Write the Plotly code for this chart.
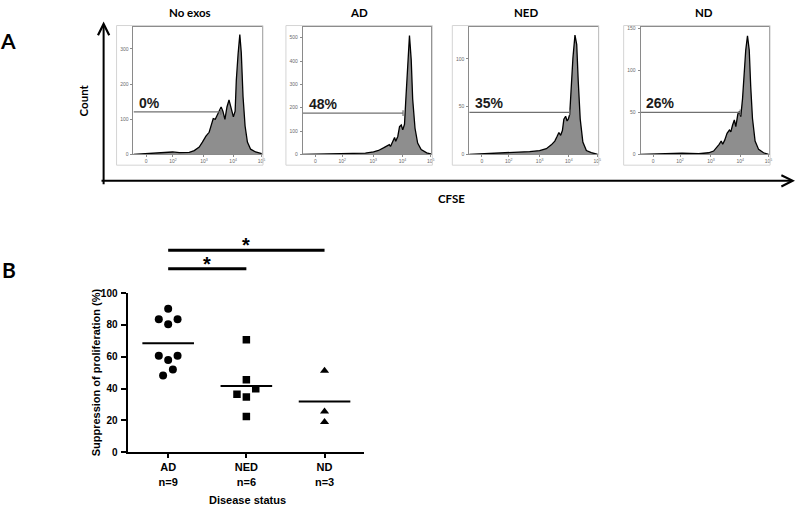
import plotly.graph_objects as go

W, H = 800, 512


def fx(px):
    return px / W


def fy(py):
    return 1 - py / H


# ---------------- Panel A data (flow cytometry histograms) ----------------
PANEL_TITLES = ["No exos", "AD", "NED", "ND"]
PERCENTS = ["0%", "48%", "35%", "26%"]
CFSE_TICKVALS = [0, 0.92, 1.98, 2.98, 3.95]
CFSE_TICKTEXT = ["0", "10<sup>2</sup>", "10<sup>3</sup>", "10<sup>4</sup>", "10<sup>5</sup>"]

noexos_cfse = [-0.43, 0.0, 0.57, 0.91, 1.14, 1.48, 1.65, 1.82, 1.93, 2.05, 2.16, 2.23, 2.30, 2.37,
               2.43, 2.50, 2.57, 2.63, 2.70, 2.77, 2.84, 2.91, 2.99, 3.05, 3.09, 3.15, 3.21, 3.26,
               3.32, 3.39, 3.47, 3.58, 3.75, 3.96]
noexos_count = [0, 2, 5, 7, 5, 6, 11, 21, 35, 52, 63, 81, 102, 100, 109, 123, 135, 123, 100, 135,
                155, 132, 107, 123, 211, 285, 341, 290, 165, 81, 35, 15, 7, 2]

ad_cfse = [-0.43, 0.57, 1.14, 1.71, 1.99, 2.16, 2.33, 2.44, 2.53, 2.57, 2.65, 2.71, 2.75, 2.82,
           2.88, 2.94, 2.99, 3.05, 3.09, 3.15, 3.22, 3.28, 3.33, 3.41, 3.50, 3.62, 3.81, 3.98]
ad_count = [0, 2, 3, 6, 11, 17, 28, 35, 42, 34, 56, 73, 56, 77, 119, 126, 105, 129, 223, 363,
            509, 405, 237, 112, 49, 21, 7, 1]

ned_cfse = [-0.43, 0.50, 1.07, 1.64, 1.98, 2.21, 2.38, 2.50, 2.58, 2.64, 2.70, 2.76, 2.81, 2.87,
            2.92, 2.96, 3.01, 3.06, 3.12, 3.19, 3.25, 3.30, 3.37, 3.46, 3.58, 3.75, 3.97]
ned_count = [0, 1, 2, 3, 4, 6, 10, 14, 19, 23, 20, 25, 37, 40, 35, 37, 42, 71, 101, 125, 115, 78,
             37, 13, 4, 2, 0]

nd_cfse = [-0.43, 0.19, 0.53, 0.99, 1.56, 1.90, 2.07, 2.18, 2.26, 2.33, 2.38, 2.45, 2.53, 2.61,
           2.66, 2.72, 2.78, 2.83, 2.90, 2.95, 3.00, 3.06, 3.12, 3.17, 3.23, 3.29, 3.34, 3.40,
           3.49, 3.61, 3.78, 3.95]
nd_count = [0, 0.4, 1.2, 1.6, 0.8, 2, 4, 8, 12, 16, 12, 17, 25, 29, 27, 35, 41, 33, 48, 51, 45,
            66, 97, 124, 141, 124, 81, 43, 16, 6, 2, 0]

gate_count = [121, 177, 44, 50]
gate_end = [2.56, 3.00, 3.01, 2.98]
count_max = [364, 548, 134, 152]
count_ticks = [[0, 100, 200, 300], [0, 100, 200, 300, 400, 500], [0, 50, 100], [0, 50, 100, 150]]

# ---------------- Panel B data (suppression of proliferation) ----------------
groups = ["AD", "NED", "ND"]
group_n = ["n=9", "n=6", "n=3"]
ad_supp = [90.2, 83.6, 83.6, 80.4, 60.6, 60.6, 57.9, 52.0, 48.3]
ned_supp = [70.7, 45.6, 39.9, 36.4, 34.8, 22.5]
nd_supp = [51.3, 25.6, 19.0]
ad_jitter = [0, -0.12, 0.12, 0, -0.12, 0.12, 0, 0.06, -0.065]
ned_jitter = [0, 0, 0.12, -0.12, 0, 0]
nd_jitter = [0, 0, 0]
sig_pairs = [(0, 2, 127.0), (0, 1, 115.3)]
y_ticks_b = [0, 20, 40, 60, 80, 100]

# ---------------- build figure ----------------
fig = go.Figure()

hist_x = [noexos_cfse, ad_cfse, ned_cfse, nd_cfse]
hist_y = [noexos_count, ad_count, ned_count, nd_count]
PANEL_LEFT = [134, 304, 471, 643]
PANEL_W = 129
P_TOP, P_BOT = 21, 152
XR = [-0.43, 3.97]
GRAY_AX = "#8a8a8a"

layout = dict(
    width=W, height=H, margin=dict(l=0, r=0, t=0, b=0),
    paper_bgcolor="white", plot_bgcolor="white", showlegend=False,
)
annotations = []
shapes = []

for i in range(4):
    k = i + 1
    xa = "x" if k == 1 else f"x{k}"
    ya = "y" if k == 1 else f"y{k}"
    fig.add_trace(go.Scatter(
        x=hist_x[i], y=hist_y[i], mode="lines", fill="tozeroy",
        fillcolor="#8e8e8e", line=dict(color="black", width=1.3),
        xaxis=xa, yaxis=ya, hoverinfo="skip"))
    g = gate_count[i]
    t = 0.022 * count_max[i]
    fig.add_trace(go.Scatter(
        x=[XR[0], gate_end[i], None, gate_end[i], gate_end[i]],
        y=[g, g, None, g - t, g + t], mode="lines",
        line=dict(color="#707070", width=1.2), xaxis=xa, yaxis=ya, hoverinfo="skip"))
    left = PANEL_LEFT[i]
    axis_common = dict(showline=True, linecolor=GRAY_AX, linewidth=1, mirror=True,
                       ticks="outside", ticklen=2, tickcolor=GRAY_AX, tickwidth=1,
                       showgrid=False, zeroline=False,
                       tickfont=dict(family="Arial", size=5, color="#6a6a6a"))
    layout["xaxis" if k == 1 else f"xaxis{k}"] = dict(
        domain=[fx(left), fx(left + PANEL_W)], range=XR, anchor=ya,
        tickvals=CFSE_TICKVALS, ticktext=CFSE_TICKTEXT, **axis_common)
    layout["yaxis" if k == 1 else f"yaxis{k}"] = dict(
        domain=[fy(P_BOT), fy(P_TOP)], range=[0, count_max[i]], anchor=xa,
        tickvals=count_ticks[i], ticklabelstandoff=1, **axis_common)
    # outer light frame
    shapes.append(dict(type="rect", xref="paper", yref="paper",
                       x0=fx(left - 17), x1=fx(left + PANEL_W + 1), y0=fy(163), y1=fy(20),
                       line=dict(color="#d4d4d4", width=1)))
    # percent label
    annotations.append(dict(text=PERCENTS[i], xref=xa, yref=ya, x=-0.3, y=g,
                            xanchor="left", yanchor="bottom", yshift=-1, showarrow=False,
                            font=dict(family="Liberation Sans, Arial", size=14, color="#1a1a1a",
                                      weight="bold")))
    # panel title
    annotations.append(dict(text=PANEL_TITLES[i], xref="paper", yref="paper",
                            x=fx(left + PANEL_W / 2 - 8 + (7 if i == 3 else 0)), y=fy(7),
                            xanchor="center", yanchor="middle", showarrow=False,
                            font=dict(family="Lato", size=11.5, color="black", weight="bold")))

# Panel B scatter
b_vals = [ad_supp, ned_supp, nd_supp]
b_jit = [ad_jitter, ned_jitter, nd_jitter]
b_sym = ["circle", "square", "triangle-up"]
b_size = [8, 7.5, 8]
for gi in range(3):
    fig.add_trace(go.Scatter(
        x=[gi + j for j in b_jit[gi]], y=b_vals[gi], mode="markers",
        marker=dict(symbol=b_sym[gi], size=b_size[gi], color="black"),
        xaxis="x5", yaxis="y5", hoverinfo="skip"))
    m = sum(b_vals[gi]) / len(b_vals[gi])
    fig.add_trace(go.Scatter(
        x=[gi - 0.33, gi + 0.33], y=[m, m], mode="lines",
        line=dict(color="black", width=2), xaxis="x5", yaxis="y5", hoverinfo="skip"))

for a, b, yb in sig_pairs:
    fig.add_trace(go.Scatter(x=[a, b], y=[yb, yb], mode="lines",
                             line=dict(color="black", width=3), xaxis="x6", yaxis="y6",
                             hoverinfo="skip"))
    annotations.append(dict(text="*", xref="x6", yref="y6", x=(a + b) / 2, y=yb,
                            xanchor="center", yanchor="bottom", yshift=-8, showarrow=False,
                            font=dict(family="Liberation Sans, Arial", size=20, color="black",
                                      weight="bold")))

BX0, BX1 = 128, 365
BY_TOP, BY_BOT = 294, 457
bfont = dict(family="Liberation Sans, Arial", size=11, color="black", weight="bold")
layout["xaxis5"] = dict(domain=[fx(BX0), fx(BX1)], range=[-0.52, 2.5], anchor="y5",
                        tickvals=[0, 1, 2],
                        ticktext=[f"{g}<br>{n}" for g, n in zip(groups, group_n)],
                        showline=True, linecolor="black", linewidth=2, ticks="outside",
                        ticklen=4, tickwidth=2, tickcolor="black", showgrid=False,
                        zeroline=False, tickfont=bfont)
layout["yaxis5"] = dict(domain=[fy(BY_BOT), fy(BY_TOP)], range=[0, 100], anchor="x5",
                        tickvals=y_ticks_b, showline=True, linecolor="black", linewidth=2,
                        ticks="outside", ticklen=5, tickwidth=2, tickcolor="black",
                        showgrid=False, zeroline=False, ticklabelstandoff=1,
                        tickfont=dict(family="Liberation Sans, Arial", size=10,
                                      color="black", weight="bold"))
layout["xaxis6"] = dict(domain=[fx(BX0), fx(BX1)], range=[-0.52, 2.5], anchor="y6",
                        visible=False)
layout["yaxis6"] = dict(domain=[fy(BY_TOP), fy(237)], range=[100, 135], anchor="x6",
                        visible=False)

# Big axes of panel A
annotations.append(dict(text="", xref="paper", yref="paper", x=fx(104), y=fy(16),
                        ax=0, ay=164, showarrow=True, arrowhead=5, arrowsize=1.1,
                        arrowwidth=2, arrowcolor="black", standoff=0, startstandoff=0))
annotations.append(dict(text="", xref="paper", yref="paper", x=fx(798), y=fy(179),
                        ax=-695, ay=0, showarrow=True, arrowhead=5, arrowsize=1.1,
                        arrowwidth=2, arrowcolor="black", standoff=0, startstandoff=0))

lato = dict(family="Lato", size=11.5, color="black", weight="bold")
annotations += [
    dict(text="Count", xref="paper", yref="paper", x=fx(84), y=fy(97), textangle=-90,
         showarrow=False, font=lato, xanchor="center", yanchor="middle"),
    dict(text="CFSE", xref="paper", yref="paper", x=fx(453), y=fy(197), showarrow=False,
         font=lato, xanchor="center", yanchor="middle"),
    dict(text="A", xref="paper", yref="paper", x=fx(8), y=fy(35), showarrow=False,
         font=dict(family="Lato", size=21, color="black", weight="bold"),
         xanchor="center", yanchor="middle"),
    dict(text="B", xref="paper", yref="paper", x=fx(9), y=fy(270), showarrow=False,
         font=dict(family="Lato", size=21, color="black", weight="bold"),
         xanchor="center", yanchor="middle"),
    dict(text="Suppression of proliferation (%)", xref="paper", yref="paper",
         x=fx(96), y=fy((BY_TOP + BY_BOT) / 2), textangle=-90, showarrow=False,
         font=dict(family="Liberation Sans, Arial", size=11, color="black", weight="bold"),
         xanchor="center", yanchor="middle"),
    dict(text="Disease status", xref="paper", yref="paper", x=fx(248), y=0, yshift=-2,
         showarrow=False, font=bfont, xanchor="center", yanchor="bottom"),
]

layout["annotations"] = annotations
layout["shapes"] = shapes
fig.update_layout(**layout)
fig.write_html("out.html", config={"displayModeBar": False},
               post_script="document.body.style.margin='0';document.body.style.overflow='hidden';")
